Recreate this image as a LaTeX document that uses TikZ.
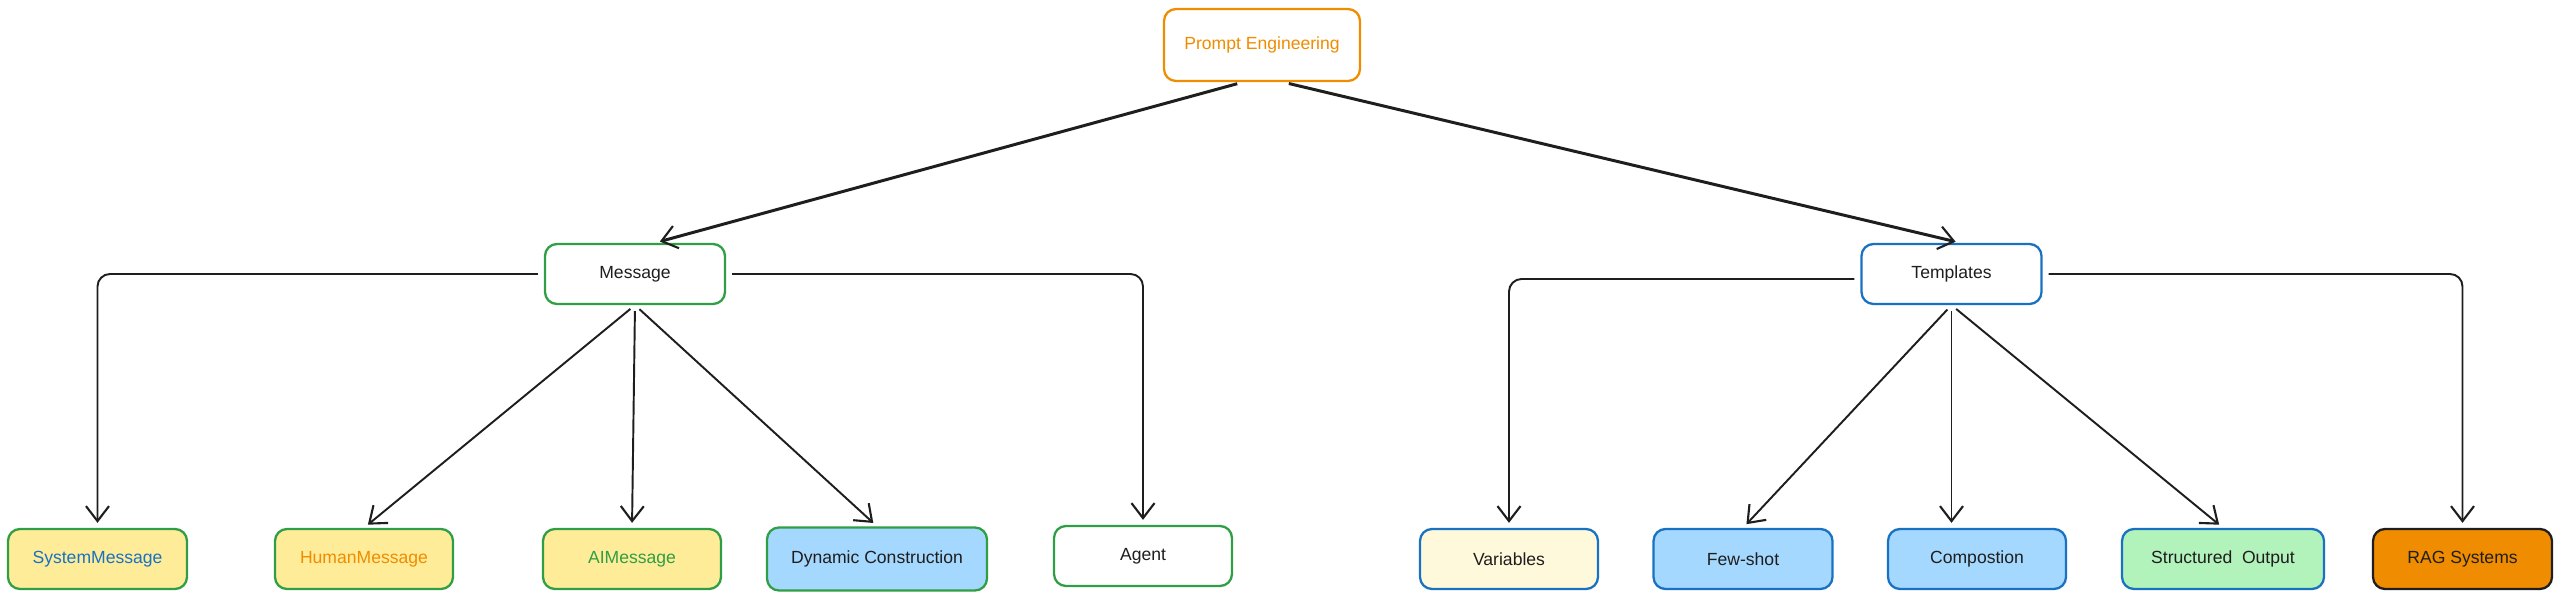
\documentclass[tikz,border=0pt]{standalone}
\usepackage{fontspec}
\setmainfont{Liberation Sans}
\usetikzlibrary{arrows.meta}

\definecolor{exOrange}{HTML}{F08C00}
\definecolor{exGreen}{HTML}{2F9E44}
\definecolor{exBlue}{HTML}{1971C2}
\definecolor{exBlack}{HTML}{1E1E1E}
\definecolor{exYellow}{HTML}{FFEC99}
\definecolor{exPaleYellow}{HTML}{FFF9DB}
\definecolor{exSky}{HTML}{A5D8FF}
\definecolor{exMint}{HTML}{B2F2BB}

\begin{document}
\begin{tikzpicture}[
	box/.style={draw, rectangle, rounded corners=0.24cm, minimum width=3.56cm, minimum height=1.2cm,
		inner sep=1pt, line width=1.3pt, fill=white, text=exBlack, font=\fontsize{10}{12}\selectfont},
	greenbox/.style={box, draw=exGreen},
	bluebox/.style={box, draw=exBlue},
	>={Straight Barb[length=3mm, width=4.6mm, line width=1.2pt]}
	]
	
	\useasboundingbox (0,0) rectangle (51.2,11.98);
	
	%-----------------------
	% Customizable heights
	%-----------------------
	\def\htop{11.08}  % Row 1: root
	\def\hmid{6.50}   % Row 2: Message / Templates
	\def\hbot{0.80}   % Row 3: leaves
	
	%-----------------------
	% Row 1: root
	%-----------------------
	\node[box, draw=exOrange, text=exOrange, minimum width=3.92cm, minimum height=1.44cm] (PE) at (25.24,\htop) {Prompt Engineering};
	
	%-----------------------
	% Row 2: Message / Templates
	%-----------------------
	\node[greenbox, minimum width=3.6cm] (Msg) at (12.70,\hmid) {Message};
	\node[bluebox, minimum width=3.6cm] (Tpl) at (39.03,\hmid) {Templates};
	
	%-----------------------
	% Row 3: leaves under Message
	%-----------------------
	\node[greenbox, fill=exYellow, text=exBlue, minimum width=3.58cm] (SysMsg) at (1.95,\hbot) {SystemMessage};
	\node[greenbox, fill=exYellow, text=exOrange] (HumMsg) at (7.28,\hbot) {HumanMessage};
	\node[greenbox, fill=exYellow, text=exGreen] (AIMsg) at (12.64,\hbot) {AIMessage};
	\node[greenbox, fill=exSky, minimum width=4.4cm, minimum height=1.26cm] (DynCon) at (17.54,\hbot) {Dynamic Construction};
	\node[greenbox] (Agent) at (22.86,0.86) {Agent};
	
	%-----------------------
	% Row 3: leaves under Templates
	%-----------------------
	\node[bluebox, fill=exPaleYellow] (Vars) at (30.18,\hbot) {Variables};
	\node[bluebox, fill=exSky, minimum width=3.58cm] (Few) at (34.86,\hbot) {Few-shot};
	\node[bluebox, fill=exSky] (Comp) at (39.54,\hbot) {Compostion};
	\node[bluebox, fill=exMint, minimum width=4.04cm] (Struct) at (44.46,\hbot) {Structured\ \ Output};
	\node[box, draw=exBlack, fill=exOrange, minimum width=3.58cm] (RAG) at (49.25,\hbot) {RAG Systems};
	
	%-----------------------
	% Connections
	%-----------------------
	\tikzset{connect/.style={->, exBlack, line width=1.1pt, rounded corners=0.25cm, shorten >=0.1cm, shorten <=0.12cm}}
	\tikzset{main/.style={connect, line width=1.7pt}}
	
	% root -> second row
	\draw[main] ([xshift=-0.38cm]PE.south) -- ([xshift=0.4cm]Msg.north);
	\draw[main] ([xshift=0.42cm]PE.south) -- ([xshift=0.18cm]Tpl.north);
	
	% Message -> leaves
	\draw[connect] (Msg.west) -| (SysMsg.north);
	\draw[connect] (Msg.east) -| (Agent.north);
	\draw[connect] (Msg.south) -- (HumMsg.north);
	\draw[connect] (Msg.south) -- (AIMsg.north);
	\draw[connect] (Msg.south) -- (DynCon.north);
	
	% Templates -> leaves
	\draw[connect] ([yshift=-0.1cm]Tpl.west) -| (Vars.north);
	\draw[connect] (Tpl.east) -| (RAG.north);
	\draw[connect] (Tpl.south) -- (Few.north);
	\draw[connect] (Tpl.south) -- (Tpl.south |- Comp.north);
	\draw[connect] (Tpl.south) -- (Struct.north);
	
\end{tikzpicture}
\end{document}
